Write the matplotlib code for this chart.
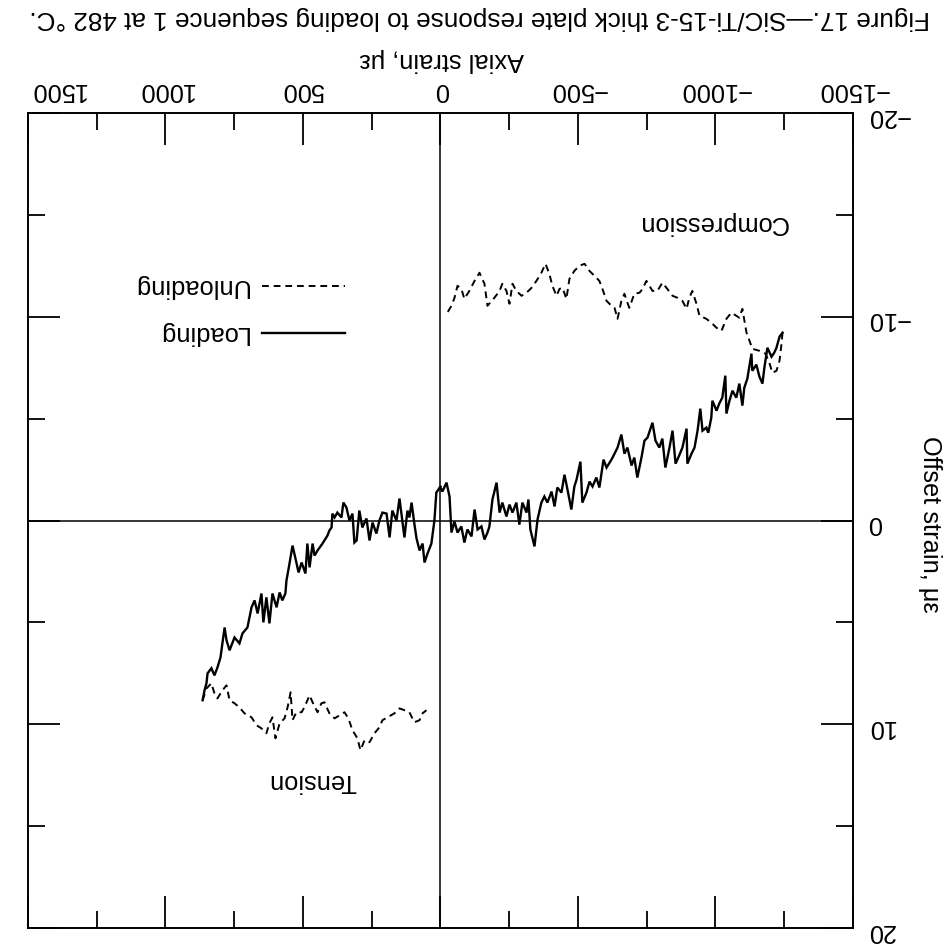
import matplotlib
matplotlib.use('Agg')
import matplotlib.pyplot as plt
from matplotlib.ticker import MultipleLocator
from matplotlib.transforms import ScaledTranslation

plt.rcParams['font.family'] = ['Liberation Sans', 'DejaVu Sans']

# axial strain (microstrain) and offset strain (microstrain)
load_ten_axial = [0, 15, 22, 33, 47, 58, 65, 76, 87, 95, 105, 113, 120, 131, 142, 149, 160, 175, 185, 196,
                  211, 222, 233, 247, 258, 269, 284, 295, 305, 313, 320, 331, 342, 353, 360, 375, 385, 393, 396, 404,
                  411, 429, 447, 458, 465, 476, 484, 491, 505, 516, 524, 538, 549, 560, 564, 575, 585, 596, 611, 622,
                  633, 644, 651, 665, 676, 687, 702, 720, 731, 749, 767, 778, 785, 793, 800, 811, 822, 833, 847, 851,
                  858, 865]
load_ten_offset = [-1.67, -1.37, 0.0, 1.13, 1.62, 2.06, 1.13, 1.47, 0.88, 0.15, -0.88, -0.15, -0.49, 0.83, -0.34, -1.08, 0.0, -0.49, 0.83, -0.34,
                   -0.39, 0.0, 0.64, 0.10, 0.98, -0.10, 0.34, -0.49, 0.98, 1.08, -0.34, 0.0, -0.64, -0.88, -0.15, -0.39, -0.15, -0.34, 0.34, 0.49,
                   0.74, 1.13, 1.47, 1.72, 1.13, 2.30, 1.13, 2.60, 2.06, 2.55, 2.06, 1.23, 2.11, 2.94, 3.58, 3.92, 3.53, 4.26, 3.58, 5.05,
                   3.77, 5.00, 3.58, 4.56, 3.92, 4.26, 5.25, 5.54, 6.03, 5.74, 6.37, 5.88, 5.25, 6.03, 6.72, 7.21, 7.60, 7.25, 7.50, 7.99,
                   8.33, 8.82]

unload_ten_axial = [865, 851, 833, 822, 811, 793, 778, 767, 749, 731, 713, 687, 669, 651, 633, 622, 611, 600, 585, 567,
                    556, 545, 538, 524, 505, 495, 476, 465, 447, 433, 422, 404, 385, 367, 349, 335, 320, 302, 291, 276,
                    258, 240, 222, 211, 193, 167, 149, 131, 113, 95, 76, 65, 51]
unload_ten_offset = [8.82, 8.24, 7.99, 8.48, 8.73, 8.33, 8.09, 8.82, 8.97, 9.17, 9.46, 9.66, 10.05, 10.20, 10.44, 9.95, 9.66, 10.69, 9.95, 9.71,
                     9.17, 8.43, 9.80, 9.41, 9.41, 9.17, 8.58, 8.92, 9.41, 8.97, 8.92, 9.46, 9.71, 9.56, 9.41, 9.71, 10.29, 10.69, 11.27, 10.78,
                     10.88, 10.44, 10.15, 9.80, 9.66, 9.46, 9.22, 9.31, 9.41, 9.90, 9.80, 9.46, 9.31]

load_comp_axial = [0, -7, -22, -33, -40, -51, -62, -76, -87, -98, -113, -124, -135, -149, -160, -171, -178, -189, -204, -215,
                   -225, -240, -251, -262, -276, -287, -298, -313, -320, -327, -342, -353, -367, -378, -389, -404, -415, -425, -440, -451,
                   -462, -476, -487, -495, -509, -516, -531, -542, -553, -567, -578, -593, -604, -622, -633, -644, -658, -669, -680, -695,
                   -705, -716, -731, -742, -753, -771, -782, -796, -807, -818, -833, -844, -855, -865, -880, -895, -898, -913, -924, -935,
                   -945, -953, -967, -974, -985, -989, -1004, -1014, -1025, -1036, -1040, -1051, -1062, -1076, -1087, -1098, -1105, -1116, -1131, -1134,
                   -1149, -1160, -1171, -1178, -1189, -1204, -1214, -1222, -1233, -1244]
load_comp_offset = [-1.62, -1.42, -1.86, -1.18, 0.59, 0.05, 0.59, 0.29, 1.08, 0.44, 0.78, -0.54, 0.44, 0.29, 0.93, 0.59, 0.29, -1.03, -1.86, -0.39,
                    -0.88, -0.20, -0.78, -0.39, -0.88, 0.20, -0.88, -0.39, -1.03, 0.44, 1.27, -0.05, -0.88, -1.18, -0.88, -1.42, -0.69, -1.62, -1.37, -2.25,
                    -1.52, -0.54, -1.67, -2.01, -2.89, -0.88, -1.37, -1.91, -1.67, -2.11, -1.62, -2.99, -2.60, -2.99, -3.28, -3.58, -4.22, -3.28, -3.58, -2.70,
                    -3.09, -2.11, -3.09, -3.92, -4.07, -4.80, -3.92, -3.58, -4.02, -2.60, -3.58, -4.41, -2.79, -3.09, -3.58, -4.51, -2.79, -3.28, -3.58, -4.41,
                    -5.49, -4.41, -4.56, -4.31, -5.05, -5.88, -5.39, -5.74, -6.03, -7.11, -5.25, -5.88, -6.37, -6.03, -6.72, -5.64, -6.52, -6.96, -8.19, -7.35,
                    -7.65, -7.06, -6.72, -7.50, -8.48, -8.04, -8.24, -8.48, -9.02, -9.22]

unload_comp_axial = [-1244, -1240, -1233, -1222, -1207, -1196, -1182, -1160, -1134, -1124, -1113, -1098, -1087, -1076, -1058, -1040, -1022, -1004, -985, -967,
                     -942, -931, -916, -905, -895, -880, -862, -844, -822, -807, -789, -771, -760, -749, -735, -724, -705, -687, -680, -669,
                     -658, -644, -633, -622, -604, -589, -578, -560, -542, -524, -505, -487, -469, -458, -444, -433, -422, -407, -396, -382,
                     -367, -349, -331, -313, -295, -276, -262, -251, -240, -225, -215, -196, -171, -160, -142, -124, -105, -87, -76, -62,
                     -51, -40, -25]
unload_comp_offset = [-9.22, -8.63, -7.84, -7.35, -7.25, -7.75, -8.19, -8.33, -8.43, -8.82, -9.22, -10.39, -9.95, -10.05, -10.20, -9.90, -9.31, -9.46, -9.71, -9.90,
                      -10.05, -10.64, -11.27, -10.93, -10.39, -10.78, -10.93, -11.03, -11.42, -11.67, -11.27, -11.27, -11.52, -11.76, -11.37, -11.18, -11.13, -10.44, -10.69, -11.13,
                      -10.78, -9.90, -10.44, -10.54, -10.78, -11.37, -11.76, -12.01, -12.25, -12.60, -12.50, -12.25, -11.86, -10.88, -11.42, -11.37, -11.03, -11.52, -12.11, -12.60,
                      -12.16, -11.76, -11.42, -11.18, -11.03, -11.27, -11.62, -10.64, -11.27, -11.62, -11.27, -10.93, -10.54, -11.62, -12.16, -11.76, -11.27, -10.88, -11.37, -11.52,
                      -10.93, -10.54, -10.20]

x_ticks = [-1500, -1000, -500, 0, 500, 1000, 1500]
y_ticks = [-20, -10, 0, 10, 20]

title = 'Figure 17.\u2014SiC/Ti-15-3 thick plate response to loading sequence 1 at 482 \u00b0C.'
fs = 18.3

fig = plt.figure(figsize=(9.46, 9.49), dpi=100)
ax = fig.add_axes([0.0296, 0.0221, 0.872, 0.8588])

solid = dict(color='black', lw=1.7, solid_joinstyle='miter')
dashed = dict(color='black', lw=1.4, linestyle=(0, (3.5, 2.5)))
ax.plot(load_ten_axial, load_ten_offset, **solid)
ax.plot(load_comp_axial, load_comp_offset, **solid)
ax.plot(unload_ten_axial, unload_ten_offset, **dashed)
ax.plot(unload_comp_axial, unload_comp_offset, **dashed)

ax.axhline(0, color='black', lw=1.1)
ax.axvline(0, color='black', lw=1.1)

# the scanned page is upside down, so both axes run backwards
ax.set_xlim(1500, -1500)
ax.set_ylim(20, -20)
ax.set_xticks(x_ticks)
ax.set_yticks(y_ticks)
ax.xaxis.set_minor_locator(MultipleLocator(250))
ax.yaxis.set_minor_locator(MultipleLocator(5))
ax.tick_params(which='both', direction='in', top=True, bottom=True, left=True, right=True,
               labeltop=True, labelbottom=False, labelright=True, labelleft=False,
               width=1.3, color='black')
ax.tick_params(which='major', length=23, labelsize=fs, labelrotation=180)
ax.tick_params(which='minor', length=12)
ax.tick_params(axis='x', pad=8)
ax.tick_params(axis='y', pad=10)
for s in ax.spines.values():
    s.set_linewidth(1.4)

# the 1500 label sits inside the page edge on the scan
lbl = ax.xaxis.get_major_ticks()[-1].label2
lbl.set_transform(lbl.get_transform() + ScaledTranslation(0.3, 0, fig.dpi_scale_trans))

# legend drawn by hand, upside down like the rest
ax.plot([0.284, 0.384], [0.788, 0.788], transform=ax.transAxes, **dashed)
ax.plot([0.284, 0.384], [0.730, 0.730], transform=ax.transAxes, **solid)
ax.text(0.267, 0.788, 'Unloading', transform=ax.transAxes, rotation=180, ha='right', va='center', fontsize=fs)
ax.text(0.267, 0.730, 'Loading', transform=ax.transAxes, rotation=180, ha='right', va='center', fontsize=fs)

ax.text(-990, -14.6, 'Compression', rotation=180, ha='center', va='center', fontsize=fs)
ax.text(465, 12.8, 'Tension', rotation=180, ha='center', va='center', fontsize=fs)

fig.text(0.467, 0.937, 'Axial strain, \u03bc\u03b5', rotation=180, ha='center', va='center', fontsize=fs)
fig.text(0.983, 0.447, 'Offset strain, \u03bc\u03b5', rotation=270, ha='center', va='center', fontsize=fs)
fig.text(0.507, 0.981, title, rotation=180, ha='center', va='center', fontsize=18.8)

fig.savefig('out.png', dpi=100)
